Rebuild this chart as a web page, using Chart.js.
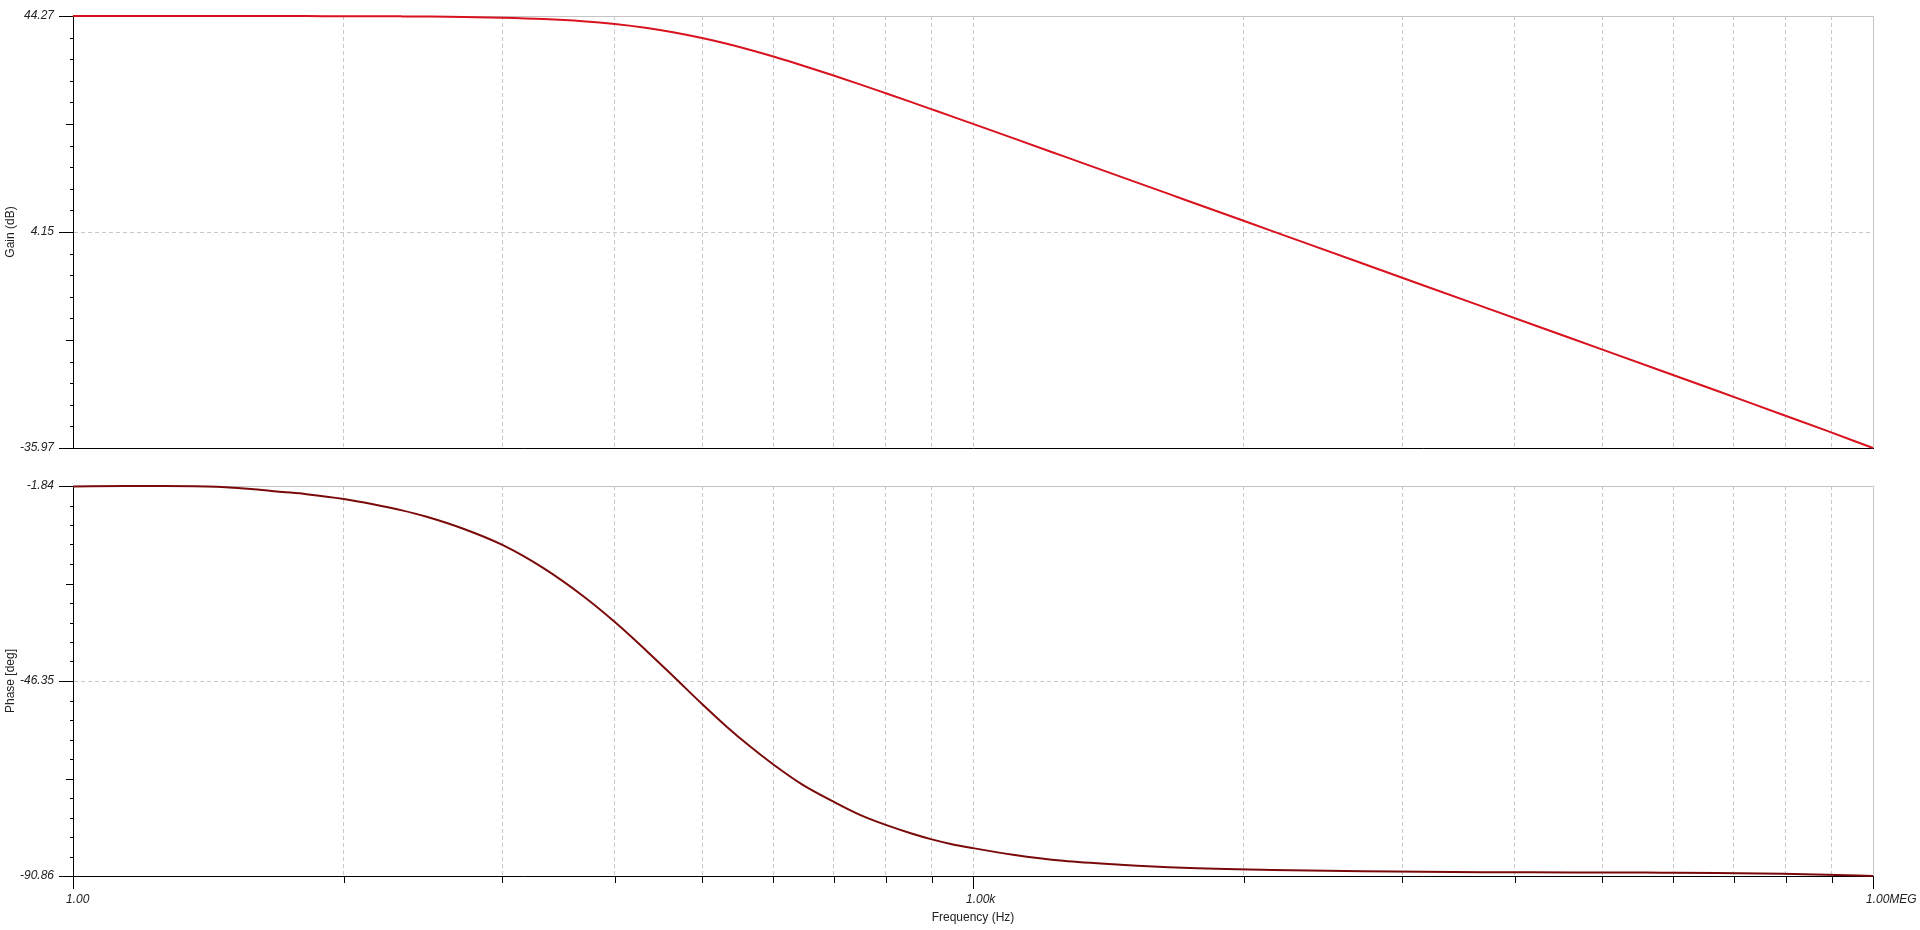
<!DOCTYPE html>
<html>
<head>
<meta charset="utf-8">
<script src="https://cdn.jsdelivr.net/npm/chart.js@4/dist/chart.umd.min.js"></script>
<style>
  html, body { margin: 0; padding: 0; background: #fff; overflow: hidden; }
  #gainChart { position: absolute; left: 0; top: 0; }
  #phaseChart { position: absolute; left: 0; top: 470px; }
</style>
</head>
<body>
<canvas id="gainChart" width="1920" height="470"></canvas>
<canvas id="phaseChart" width="1920" height="460"></canvas>
<script>
// frequency sweep points (Hz)
const freqHz = [1, 1.5, 2, 3, 4, 5, 6, 8, 10, 12.5, 15, 20, 27, 37, 50, 64, 82, 100, 125, 150, 180, 216, 270, 343, 420, 512, 620, 729, 850,
    1000, 1360, 2000, 3100, 5000, 10000, 20000, 50000, 100000, 200000, 300000, 500000, 700000, 1000000];

const gainDb = [44.27, 44.27, 44.27, 44.27, 44.26, 44.26, 44.25, 44.24, 44.23, 44.20, 44.17, 44.10, 43.96, 43.71, 43.30, 42.78, 42.04,
    41.26, 40.18, 39.15, 38.00, 36.74, 35.08, 33.21, 31.57, 29.92, 28.31, 26.93, 25.62,
    24.23, 21.58, 18.24, 14.44, 10.29, 4.27, -1.75, -9.71, -15.73, -21.75, -25.30, -29.80, -32.75, -35.97];

const phaseDeg = [-1.95, -1.86, -1.84, -2.0, -2.6, -3.2, -3.7, -4.8, -6.0, -7.4, -8.8, -11.6, -15.3, -20.6, -26.9, -32.9, -39.6,
    -45.2, -51.6, -56.6, -61.2, -65.4, -70.0, -73.9, -76.9, -79.2, -81.1, -82.5, -83.6,
    -84.5, -86.0, -87.4, -88.3, -89.0, -89.5, -89.8, -90.0, -90.05, -90.1, -90.15, -90.35, -90.55, -90.86];

const gainTicks = [-35.97, 4.15, 44.27];
const phaseTicks = [-90.86, -46.35, -1.84];
const freqLabels = {1: "1.00", 1000: "1.00k", 1000000: "1.00MEG"};

// grid spacing used by the plot: one "decade" is 1000x, lines at k^3
const gridMult = [1, 8, 27, 64, 125, 216, 343, 512, 729];
const freqGrid = [];
[1, 1000].forEach(d => gridMult.forEach(m => freqGrid.push(d * m)));
freqGrid.push(1000000);

Chart.defaults.font.family = '"Liberation Sans", Arial, sans-serif';
Chart.defaults.color = "#222";

const tickFont = {size: 12, style: "italic"};
const titleFont = {size: 12};

const axisMarks = {
    id: "axisMarks",
    beforeDraw(chart) {
        const {ctx, chartArea: a} = chart;
        ctx.save();
        ctx.strokeStyle = "#c4c4c4";
        ctx.lineWidth = 1;
        ctx.strokeRect(Math.round(a.left) + 0.5, Math.round(a.top) + 0.5, Math.round(a.right - a.left), Math.round(a.bottom - a.top));
        ctx.restore();
    },
    afterDraw(chart, args, opts) {
        const {ctx, chartArea: a} = chart;
        ctx.save();
        ctx.strokeStyle = "#000";
        ctx.lineWidth = 1;
        ctx.beginPath();
        const y = chart.scales.y;
        y.ticks.forEach((t, i) => {
            const py = Math.round(y.getPixelForValue(t.value)) + 0.5;
            const len = i % 10 === 0 ? 14 : (i % 5 === 0 ? 7 : 3);
            ctx.moveTo(a.left - len, py);
            ctx.lineTo(a.left, py);
        });
        if (opts.xTicks) {
            const x = chart.scales.x;
            x.ticks.forEach(t => {
                const px = Math.round(x.getPixelForValue(t.value)) + 0.5;
                const len = freqLabels[t.value] ? 13 : 7;
                ctx.moveTo(px, a.bottom);
                ctx.lineTo(px, a.bottom + len);
            });
        }
        ctx.stroke();
        ctx.restore();
    }
};

function freqAxis(withLabels) {
    return {
        type: "logarithmic",
        min: 1,
        max: 1000000,
        afterBuildTicks: s => { s.ticks = freqGrid.map(v => ({value: v})); },
        afterFit: s => {
            s.height = withLabels ? 54 : 22;
            s.paddingLeft = 0;
            s.paddingRight = 0;
        },
        grid: {color: "#c8c8c8", lineWidth: 1, drawTicks: false},
        border: {color: "#000", width: 1, dash: [4, 3]},
        ticks: {
            display: withLabels,
            autoSkip: false,
            maxRotation: 0,
            padding: 16,
            align: "start",
            labelOffset: -7,
            font: tickFont,
            color: "#222",
            callback: v => freqLabels[v] || ""
        },
        title: {display: withLabels, text: "Frequency (Hz)", font: titleFont, color: "#222", padding: {top: 0, bottom: 5}}
    };
}

function levelAxis(ticks, title) {
    return {
        min: ticks[0],
        max: ticks[2],
        afterBuildTicks: s => {
            const out = [];
            for (let i = 0; i <= 20; i++) {
                let v = ticks[0] + (ticks[2] - ticks[0]) * i / 20;
                if (i % 10 === 0) v = ticks[i / 10];
                out.push({value: v});
            }
            s.ticks = out;
        },
        afterFit: s => {
            s.width = 73;
            s.paddingTop = 0;
            s.paddingBottom = 0;
        },
        grid: {drawTicks: false, color: c => c.index === 10 ? "#c8c8c8" : "transparent"},
        border: {color: "#000", width: 1, dash: [4, 3]},
        ticks: {
            autoSkip: false,
            padding: 19,
            font: tickFont,
            color: "#222",
            callback: (v, i) => i % 10 === 0 ? ticks[i / 10].toFixed(2) : ""
        },
        title: {display: true, text: title, font: titleFont, color: "#222", padding: {top: 3, bottom: 0}}
    };
}

function series(values, color) {
    return {
        data: freqHz.map((f, i) => ({x: f, y: values[i]})),
        borderColor: color,
        borderWidth: 2,
        pointRadius: 0,
        cubicInterpolationMode: "monotone",
        clip: 4
    };
}

new Chart(document.getElementById("gainChart").getContext("2d"), {
    type: "line",
    data: {datasets: [series(gainDb, "#d8121e")]},
    options: {
        responsive: false,
        animation: false,
        layout: {padding: {left: 0, right: 47, top: 16, bottom: 0}},
        plugins: {legend: {display: false}, tooltip: {enabled: false}, axisMarks: {xTicks: false}},
        scales: {x: freqAxis(false), y: levelAxis(gainTicks, "Gain (dB)")}
    },
    plugins: [axisMarks]
});

new Chart(document.getElementById("phaseChart").getContext("2d"), {
    type: "line",
    data: {datasets: [series(phaseDeg, "#7a0a0a")]},
    options: {
        responsive: false,
        animation: false,
        layout: {padding: {left: 0, right: 47, top: 16, bottom: 0}},
        plugins: {legend: {display: false}, tooltip: {enabled: false}, axisMarks: {xTicks: true}},
        scales: {x: freqAxis(true), y: levelAxis(phaseTicks, "Phase [deg]")}
    },
    plugins: [axisMarks]
});
</script>
</body>
</html>
